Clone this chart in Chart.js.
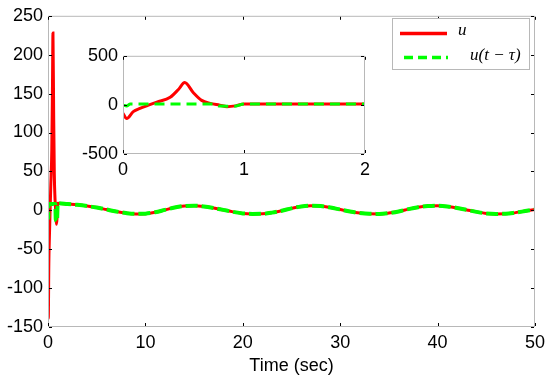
<!DOCTYPE html>
<html>
<head>
<meta charset="utf-8">
<script src="https://cdn.jsdelivr.net/npm/chart.js@4.4.0/dist/chart.umd.min.js"></script>
<style>
  html, body { margin: 0; padding: 0; background: #fff; }
  #wrap { position: relative; width: 550px; height: 381px; }
  #main-chart { position: absolute; left: 0; top: 0; }
  #inset-chart { position: absolute; left: 80px; top: 40px; }
</style>
</head>
<body>
<div id="wrap">
  <canvas id="main-chart" width="550" height="381"></canvas>
  <canvas id="inset-chart" width="300" height="150"></canvas>
</div>
<script>
// start-up transient of u
const timeEarly = [0, 0.03, 0.085, 0.14, 0.21, 0.28, 0.39, 0.46, 0.51, 0.58, 0.65, 0.72, 0.8, 0.86, 0.93, 1.0];
const uEarly = [-85, -139, -69, -36, -3, 29, 78, 160, 228, 127, 46, 15, -3, -18, -10, 9];

// start-up part of the delayed signal
const timeEarlyDelayed = [0, 0.03, 0.06, 0.75, 0.8, 0.92, 1.0];
const delayedEarly = [-2, -10, 8, 8, -12, -14, 9];

// after ~1 s both curves lie on top of each other
const timeLate = [2, 3, 4, 5, 6, 7, 8, 9, 10, 11, 12, 13, 14, 15, 16, 17, 18, 19, 20,
  21, 22, 23, 24, 25, 26, 27, 28, 29, 30, 31, 32, 33, 34, 35, 36, 37, 38, 39, 40,
  41, 42, 43, 44, 45, 46, 47, 48, 49, 50];
const uLate = [8, 7, 5.5, 3.5, 1, -1.5, -3.5, -4.6, -4.3, -2.5, 0.5, 3.5, 5.5, 6, 5,
  3, 0.5, -2, -4, -4.6, -4.5, -3, -0.5, 2.5, 5, 6, 5.5, 3.5, 1, -1.5, -3.5, -4.5,
  -4.6, -3.5, -1.5, 1.5, 4, 5.5, 6, 5, 3, 0.5, -2, -4, -4.6, -4.5, -3, -1, 1];

// tick labels
const mainXTicks = [0, 10, 20, 30, 40, 50];
const mainYTicks = [-150, -100, -50, 0, 50, 100, 150, 200, 250];
const insetXTicks = [0, 1, 2];
const insetYTicks = [-500, 0, 500];

const legendLabels = ['u', 'u(t \u2212 \u03c4)'];

const RED = '#ff0000';
const GREEN = '#00ff00';
const FONT = { family: '"Liberation Sans", Arial, sans-serif', size: 18 };

function toPoints(ts, ys) {
  return ts.map((t, i) => ({ x: t, y: ys[i] }));
}

const uPoints = toPoints(timeEarly.concat(timeLate), uEarly.concat(uLate));
const delayedPoints = toPoints(timeEarlyDelayed.concat(timeLate), delayedEarly.concat(uLate));

// MATLAB style box with small inward ticks on all four sides
const matlabAxes = {
  id: 'matlabAxes',
  afterDraw(chart) {
    const ctx = chart.ctx;
    const a = chart.chartArea;
    const len = 3;
    ctx.save();
    ctx.strokeStyle = '#b8b8b8';
    ctx.lineWidth = 1;
    ctx.strokeRect(a.left + 0.5, a.top + 0.5, a.right - a.left - 1, a.bottom - a.top - 1);
    ctx.strokeStyle = '#000';
    ctx.beginPath();
    chart.scales.x.ticks.forEach(t => {
      const px = Math.round(chart.scales.x.getPixelForValue(t.value)) + 0.5;
      ctx.moveTo(px, a.bottom - 1); ctx.lineTo(px, a.bottom - 1 - len);
      ctx.moveTo(px, a.top + 1); ctx.lineTo(px, a.top + 1 + len);
    });
    chart.scales.y.ticks.forEach(t => {
      const py = Math.round(chart.scales.y.getPixelForValue(t.value)) + 0.5;
      ctx.moveTo(a.left + 1, py); ctx.lineTo(a.left + 1 + len, py);
      ctx.moveTo(a.right - 1, py); ctx.lineTo(a.right - 1 - len, py);
    });
    ctx.stroke();
    ctx.restore();
  }
};

// legend box in the upper right corner
const boxLegend = {
  id: 'boxLegend',
  afterDraw(chart) {
    const ctx = chart.ctx;
    const x0 = 392, y0 = 18, w = 138, h = 52;
    ctx.save();
    ctx.fillStyle = '#fff';
    ctx.fillRect(x0, y0, w, h);
    ctx.strokeStyle = '#b8b8b8';
    ctx.lineWidth = 1;
    ctx.strokeRect(x0 + 0.5, y0 + 0.5, w - 1, h - 1);

    ctx.lineWidth = 3.5;
    ctx.strokeStyle = RED;
    ctx.beginPath();
    ctx.moveTo(400, 33.5); ctx.lineTo(447, 33.5);
    ctx.stroke();

    ctx.strokeStyle = GREEN;
    ctx.setLineDash([9, 5]);
    ctx.beginPath();
    ctx.moveTo(404, 57.5); ctx.lineTo(448, 57.5);
    ctx.stroke();
    ctx.setLineDash([]);

    ctx.fillStyle = '#000';
    ctx.font = 'italic 17px "Liberation Serif", "Times New Roman", serif';
    ctx.textBaseline = 'middle';
    ctx.fillText(legendLabels[0], 458, 31);
    ctx.fillText(legendLabels[1], 470, 56);
    ctx.restore();
  }
};

function lineDatasets(redWidth, greenWidth, dash) {
  return [
    {
      label: legendLabels[0],
      data: uPoints,
      borderColor: RED,
      borderWidth: redWidth,
      pointRadius: 0,
      cubicInterpolationMode: 'monotone',
      order: 1
    },
    {
      label: legendLabels[1],
      data: delayedPoints,
      borderColor: GREEN,
      borderWidth: greenWidth,
      borderDash: dash,
      pointRadius: 0,
      cubicInterpolationMode: 'monotone',
      order: 0
    }
  ];
}

function axisOptions(xMin, xMax, xTicks, yMin, yMax, yTicks, yWidth, xHeight, withTitle) {
  return {
    x: {
      type: 'linear',
      min: xMin,
      max: xMax,
      afterBuildTicks: s => { s.ticks = xTicks.map(v => ({ value: v })); },
      ticks: { font: FONT, color: '#000', padding: 5, maxRotation: 0 },
      grid: { display: false, drawTicks: false },
      border: { display: false },
      title: { display: withTitle, text: 'Time (sec)', font: FONT, color: '#000', padding: { top: 0, bottom: 4 } },
      afterFit: s => { s.height = xHeight; }
    },
    y: {
      type: 'linear',
      min: yMin,
      max: yMax,
      afterBuildTicks: s => { s.ticks = yTicks.map(v => ({ value: v })); },
      ticks: { font: FONT, color: '#000', padding: 5 },
      grid: { display: false, drawTicks: false },
      border: { display: false },
      afterFit: s => { s.width = yWidth; }
    }
  };
}

const commonPlugins = { legend: { display: false }, tooltip: { enabled: false } };

new Chart(document.getElementById('main-chart'), {
  type: 'line',
  data: { datasets: lineDatasets(3, 4, [12, 4]) },
  options: {
    responsive: false,
    animation: false,
    layout: { padding: { left: 0, right: 13, top: 10, bottom: 0 } },
    plugins: commonPlugins,
    scales: axisOptions(0, 50, mainXTicks, -150, 250, mainYTicks, 48, 54, true)
  },
  plugins: [matlabAxes, boxLegend]
});

new Chart(document.getElementById('inset-chart'), {
  type: 'line',
  data: { datasets: lineDatasets(3, 3, [10, 6]) },
  options: {
    responsive: false,
    animation: false,
    layout: { padding: { left: 0, right: 15, top: 12, bottom: 0 } },
    plugins: commonPlugins,
    scales: axisOptions(0, 2, insetXTicks, -500, 500, insetYTicks, 43, 36, false)
  },
  plugins: [matlabAxes]
});
</script>
</body>
</html>
